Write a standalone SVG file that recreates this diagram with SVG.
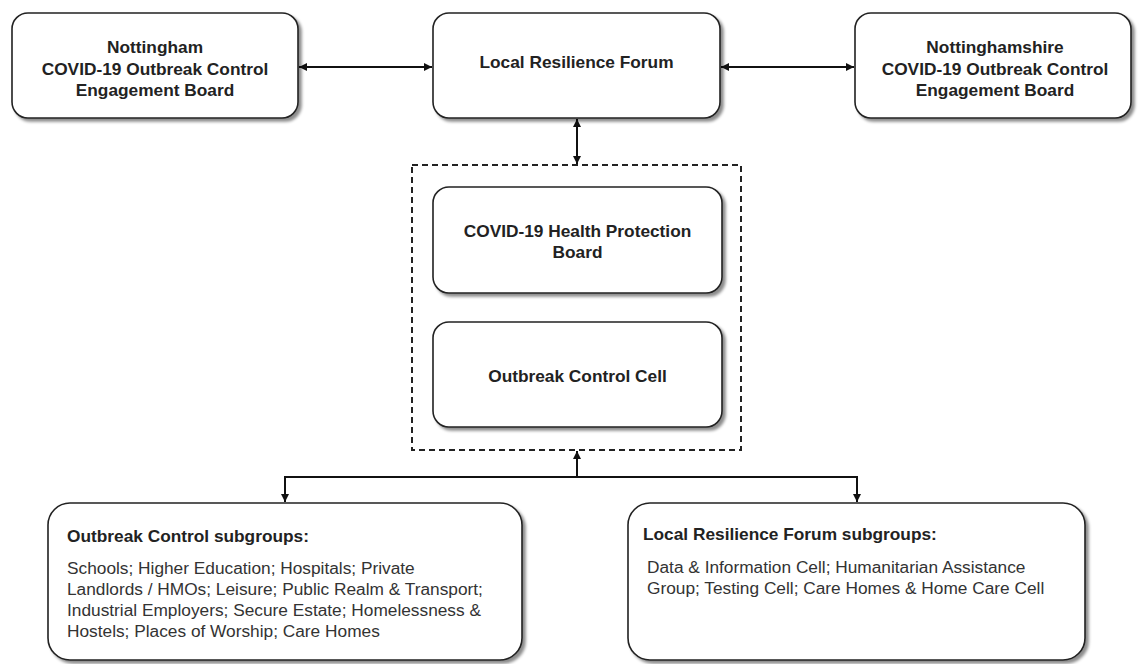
<svg xmlns="http://www.w3.org/2000/svg" width="1138" height="664" viewBox="0 0 1138 664">
<style>
.box{fill:#fff;stroke:#222;stroke-width:1.6;filter:url(#sh)}
.t{font-family:"Liberation Sans",Arial,sans-serif;font-size:17.3px;font-weight:bold;fill:#222;text-anchor:middle}
.h{font-family:"Liberation Sans",Arial,sans-serif;font-size:17.3px;font-weight:bold;fill:#222}
.b{font-family:"Liberation Sans",Arial,sans-serif;font-size:17.3px;fill:#333}
.c{fill:none;stroke:#111;stroke-width:2}
</style>
<defs>
<filter id="sh" x="-5%" y="-5%" width="115%" height="120%">
<feDropShadow dx="3" dy="3" stdDeviation="1.5" flood-color="#000" flood-opacity="0.45"/>
</filter>
<marker id="ae" viewBox="0 0 10 10" refX="10" refY="5" markerWidth="8" markerHeight="8" markerUnits="userSpaceOnUse" orient="auto">
<path d="M0,0 L10,5 L0,10 z" fill="#111"/>
</marker>
<marker id="as" viewBox="0 0 10 10" refX="0" refY="5" markerWidth="8" markerHeight="8" markerUnits="userSpaceOnUse" orient="auto">
<path d="M10,0 L0,5 L10,10 z" fill="#111"/>
</marker>
</defs>
<rect x="0" y="0" width="1138" height="664" fill="#fff"/>

<g id="connectors">
<line class="c" x1="299" y1="67" x2="432" y2="67" marker-start="url(#as)" marker-end="url(#ae)"/>
<line class="c" x1="721" y1="67" x2="854" y2="67" marker-start="url(#as)" marker-end="url(#ae)"/>
<line class="c" x1="577" y1="119" x2="577" y2="164" marker-start="url(#as)" marker-end="url(#ae)"/>
<line class="c" x1="577" y1="477" x2="577" y2="451" marker-end="url(#ae)"/>
<polyline class="c" points="285,502 285,477 857,477 857,502" marker-start="url(#as)" marker-end="url(#ae)"/>
</g>

<g id="group-box">
<rect x="412" y="165" width="329" height="285" fill="none" stroke="#222" stroke-width="2" stroke-dasharray="6,4"/>
</g>

<g id="node-nottingham">
<rect class="box" x="12" y="13" width="286" height="105" rx="16"/>
<text class="t" x="155" y="53">Nottingham</text>
<text class="t" x="155" y="74.5">COVID-19 Outbreak Control</text>
<text class="t" x="155" y="96">Engagement Board</text>
</g>

<g id="node-lrf">
<rect class="box" x="433" y="13" width="287" height="105" rx="16"/>
<text class="t" x="576.5" y="68">Local Resilience Forum</text>
</g>

<g id="node-nottinghamshire">
<rect class="box" x="855" y="13" width="276" height="105" rx="16"/>
<text class="t" x="995" y="53">Nottinghamshire</text>
<text class="t" x="995" y="74.5">COVID-19 Outbreak Control</text>
<text class="t" x="995" y="96">Engagement Board</text>
</g>

<g id="node-hpb">
<rect class="box" x="433" y="187" width="289" height="106" rx="16"/>
<text class="t" x="577.5" y="237">COVID-19 Health Protection</text>
<text class="t" x="577.5" y="258">Board</text>
</g>

<g id="node-occ">
<rect class="box" x="433" y="322" width="289" height="105" rx="16"/>
<text class="t" x="577.5" y="382">Outbreak Control Cell</text>
</g>

<g id="node-oc-subgroups">
<rect class="box" x="48" y="503" width="474" height="157" rx="22"/>
<text class="h" x="67" y="542">Outbreak Control subgroups:</text>
<text class="b" x="67" y="574">Schools; Higher Education; Hospitals; Private</text>
<text class="b" x="67" y="595">Landlords / HMOs; Leisure; Public Realm &amp; Transport;</text>
<text class="b" x="67" y="616">Industrial Employers; Secure Estate; Homelessness &amp;</text>
<text class="b" x="67" y="637">Hostels; Places of Worship; Care Homes</text>
</g>

<g id="node-lrf-subgroups">
<rect class="box" x="628" y="503" width="457" height="157" rx="22"/>
<text class="h" x="643" y="540">Local Resilience Forum subgroups:</text>
<text class="b" x="647" y="573">Data &amp; Information Cell; Humanitarian Assistance</text>
<text class="b" x="647" y="594">Group; Testing Cell; Care Homes &amp; Home Care Cell</text>
</g>
</svg>
